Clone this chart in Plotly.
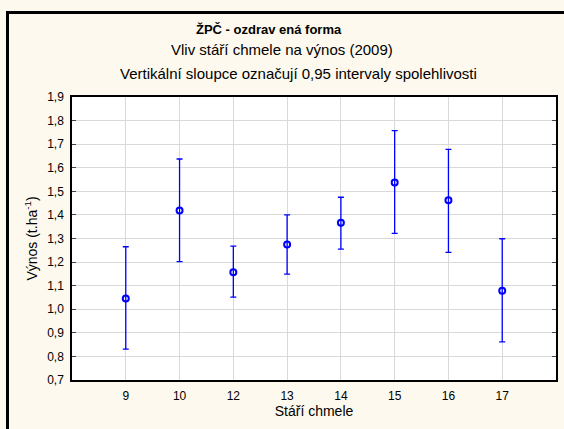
import plotly.graph_objects as go

categories = ["9", "10", "12", "13", "14", "15", "16", "17"]
means = [1.046, 1.419, 1.157, 1.275, 1.367, 1.537, 1.462, 1.078]
upper = [1.265, 1.637, 1.268, 1.400, 1.475, 1.757, 1.678, 1.299]
lower = [0.831, 1.202, 1.051, 1.149, 1.255, 1.322, 1.241, 0.862]
y_ticks = [0.7, 0.8, 0.9, 1.0, 1.1, 1.2, 1.3, 1.4, 1.5, 1.6, 1.7, 1.8, 1.9]

err_plus = [u - m for u, m in zip(upper, means)]
err_minus = [m - l for m, l in zip(means, lower)]

W, H = 564, 429
L, R, T, B = 72, 8, 97, 49
pw, ph = W - L - R, H - T - B

def px_x(px):
    return (px - L) / pw

def px_y(py):
    return (H - B - py) / ph

fig = go.Figure()
fig.add_trace(go.Scatter(
    x=categories, y=means, mode="markers",
    marker=dict(symbol="circle-open", size=6, color="#0000FF", line=dict(width=2, color="#0000FF")),
    error_y=dict(type="data", symmetric=False, array=err_plus, arrayminus=err_minus,
                 color="#0000FF", thickness=1.3, width=3),
    showlegend=False,
))

font_family = "Liberation Sans, Arial, sans-serif"
fig.update_layout(
    width=W, height=H,
    margin=dict(l=L, r=R, t=T, b=B, autoexpand=False),
    paper_bgcolor="#FDF9EE",
    plot_bgcolor="#FFFFFF",
    separators=", ",
    font=dict(family=font_family, size=12, color="#000000"),
    xaxis=dict(
        type="category", range=[-1, 8],
        showgrid=True, gridcolor="#D9D9D9", gridwidth=1,
        showline=True, linecolor="#000000", linewidth=1.5, mirror=True,
        ticks="", tickfont=dict(size=12), ticklabelstandoff=4,
        title=dict(text="Stáří chmele", font=dict(size=14), standoff=4),
    ),
    yaxis=dict(
        range=[0.7, 1.9], tickvals=y_ticks, tickformat=".1f",
        showgrid=True, gridcolor="#D9D9D9", gridwidth=1,
        showline=True, linecolor="#000000", linewidth=1.5, mirror="ticks",
        ticks="inside", ticklen=4, tickcolor="#444444",
        tickfont=dict(size=12), ticklabelstandoff=4,
        title=dict(text="Výnos (t.ha<sup>-1</sup>)", font=dict(size=14), standoff=6),
        zeroline=False,
    ),
    annotations=[
        dict(text="<b>ŽPČ - ozdrav ená forma</b>", xref="paper", yref="paper",
             x=px_x(269), y=px_y(29), xanchor="center", yanchor="middle",
             showarrow=False, font=dict(size=13)),
        dict(text="Vliv stáří chmele na výnos (2009)", xref="paper", yref="paper",
             x=px_x(282), y=px_y(50), xanchor="center", yanchor="middle",
             showarrow=False, font=dict(size=15)),
        dict(text="Vertikální sloupce označují 0,95 intervaly spolehlivosti", xref="paper", yref="paper",
             x=px_x(298), y=px_y(73), xanchor="center", yanchor="middle",
             showarrow=False, font=dict(size=15)),
    ],
    shapes=[
        dict(type="rect", xref="paper", yref="paper",
             x0=px_x(7.5), x1=px_x(600), y0=px_y(470), y1=px_y(12.5),
             line=dict(color="#000000", width=3), fillcolor="rgba(0,0,0,0)", layer="above"),
    ],
)

fig.write_html("out.html", config={"displayModeBar": False},
               post_script="document.body.style.margin='0';document.body.style.overflow='hidden';")
